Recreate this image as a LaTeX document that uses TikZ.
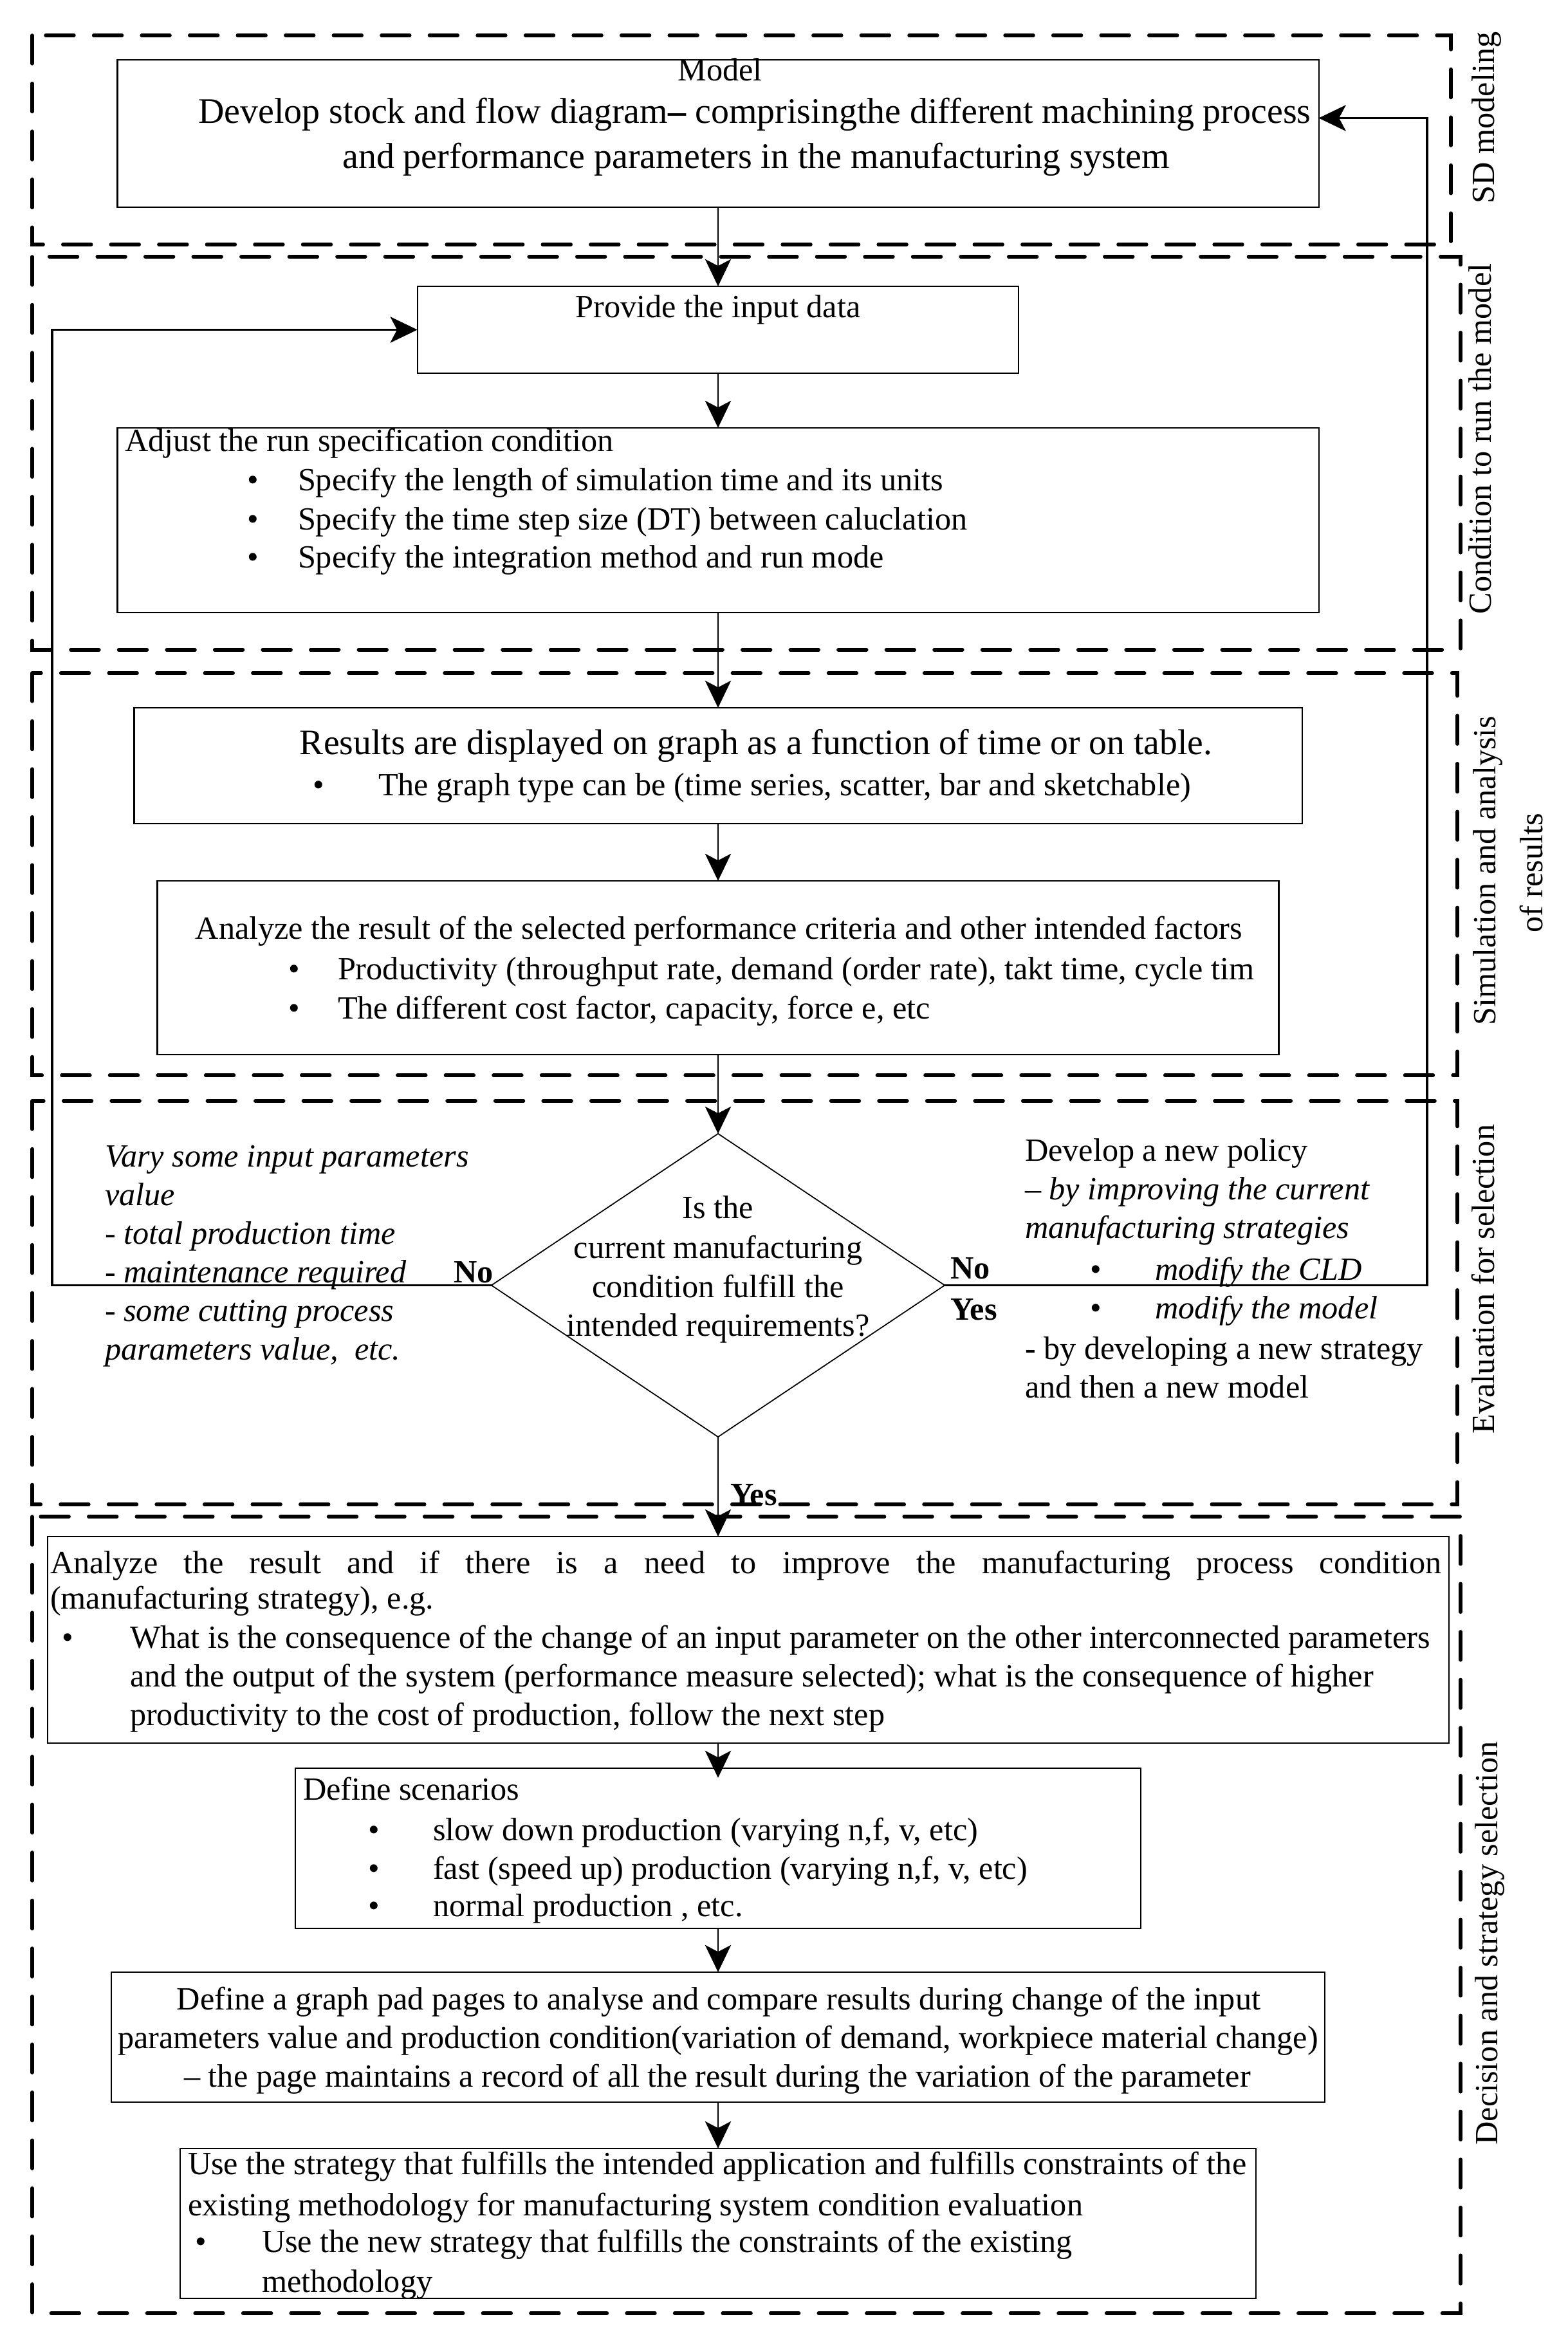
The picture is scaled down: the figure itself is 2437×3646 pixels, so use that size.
\documentclass[tikz,border=0pt]{standalone}
\usepackage{fontspec}
\setmainfont{Liberation Serif}
\usetikzlibrary{arrows.meta,shapes.geometric,calc}
\newcommand\fsbase{\fontsize{14.3}{17}\selectfont}
\newcommand\fsbig{\fontsize{15.9}{19}\selectfont}
\newcommand\fsres{\fontsize{15.8}{19}\selectfont}
\begin{document}
\begin{tikzpicture}[x=0.01cm,y=-0.01cm,
  every node/.style={inner sep=0pt,outer sep=0pt},
  txt/.style={font=\fsbase,text height=9.8pt,text depth=2.8pt,inner sep=0pt},
  bigtxt/.style={txt,font=\fsbig,text height=11pt,text depth=3.2pt},
  lw/.style={txt,anchor=west},
  ital/.style={lw,font=\fsbase\itshape},
  sect/.style={line width=1.55pt,dash pattern=on 12.5pt off 8.7pt,line cap=round},
  box/.style={draw,line width=0.6pt,rectangle},
  flow/.style={line width=0.55pt,-{Stealth[length=12pt,width=11.5pt,inset=3pt]}},
  loopline/.style={line width=0.95pt,-{Stealth[length=12pt,width=11.5pt,inset=3pt]}},
  bold/.style={txt,font=\fsbase\bfseries}
]
\useasboundingbox (0,0) rectangle (2437,3646);

% section frames
\draw[sect] (50,55) rectangle (2255,380);
\draw[sect] (50,399) rectangle (2270,1010);
\draw[sect] (50,1046) rectangle (2265,1671);
\draw[sect] (50,1711) rectangle (2265,2338);
\draw[sect] (50,2357) rectangle (2270,3595);

% section labels
\node[txt,rotate=90] (labsd) at (2310,183) {SD modeling};
\node[txt,rotate=90] (labcond) at (2305,682) {Condition to run the model};
\node[txt,rotate=90] (labsim1) at (2312,1353) {Simulation and analysis};
\node[txt,rotate=90] (labsim2) at (2385,1357) {of results};
\node[txt,rotate=90] (labeval) at (2310,1988) {Evaluation for selection};
\node[txt,rotate=90] (labdec) at (2315,3020) {Decision and strategy selection};

% boxes
\node[box,minimum width=18.66cm,minimum height=2.29cm] (model) at (1116,207.5) {};
\node[box,minimum width=9.34cm,minimum height=1.35cm] (provide) at (1116,512.5) {};
\node[box,minimum width=18.66cm,minimum height=2.87cm] (adjust) at (1116,808.5) {};
\node[box,minimum width=18.14cm,minimum height=1.80cm] (results) at (1116,1190) {};
\node[box,minimum width=17.42cm,minimum height=2.70cm] (analyze) at (1116,1504) {};
\node[draw,diamond,line width=0.5pt,minimum width=7.04cm,minimum height=4.71cm,inner sep=0pt] (dec) at (1116,1997.5) {};
\node[box,minimum width=21.76cm,minimum height=3.21cm] (analyze2) at (1163,2548.5) {};
\node[box,minimum width=13.14cm,minimum height=2.49cm] (scen) at (1116,2872.5) {};
\node[box,minimum width=18.85cm,minimum height=2.02cm] (graph) at (1116,3166) {};
\node[box,minimum width=16.71cm,minimum height=2.33cm] (use) at (1116,3455.5) {};

% model text
\node[txt] (m1) at (1119,113) {Model};
\node[bigtxt] (m2) at (1173,178) {Develop stock and flow diagram\textbf{–} comprisingthe different machining process};
\node[bigtxt] (m3) at (1175,248) {and performance parameters in the manufacturing system};

% provide
\node[txt] (p1) at (1116,481) {Provide the input data};

% adjust
\node[lw] (a1) at (194,689) {Adjust the run specification condition};
\node[lw] (ab1) at (384,750) {•};
\node[lw] (at1) at (463,750) {Specify the length of simulation time and its units};
\node[lw] (ab2) at (384,811) {•};
\node[lw] (at2) at (463,811) {Specify the time step size (DT) between caluclation};
\node[lw] (ab3) at (384,870) {•};
\node[lw] (at3) at (463,870) {Specify the integration method and run mode};

% results
\node[bigtxt,font=\fsres] (r1) at (1175,1159) {Results are displayed on graph as a function of time or on table.};
\node[lw] (rb1) at (486,1224) {•};
\node[lw] (rt1) at (588,1224) {The graph type can be (time series, scatter, bar and sketchable)};

% analyze
\node[txt] (an1) at (1117,1447) {Analyze the result of the selected performance criteria and other intended factors};
\node[lw] (anb1) at (448,1510) {•};
\node[lw] (ant1) at (525,1510) {Productivity (throughput rate, demand (order rate), takt time, cycle tim};
\node[lw] (anb2) at (448,1571) {•};
\node[lw] (ant2) at (525,1571) {The different cost factor, capacity, force e, etc};

% diamond text
\node[txt] (d1) at (1116,1881) {Is the};
\node[txt] (d2) at (1116,1943) {current manufacturing};
\node[txt] (d3) at (1116,2004) {condition fulfill the};
\node[txt] (d4) at (1116,2064) {intended requirements?};

% left italic text
\node[ital] (l1) at (163,1801) {Vary some input parameters};
\node[ital] (l2) at (163,1861) {value};
\node[ital] (l3) at (163,1921) {- total production time};
\node[ital] (l4) at (163,1981) {- maintenance required};
\node[ital] (l5) at (163,2041) {- some cutting process};
\node[ital] (l6) at (163,2101) {parameters value,\ \ etc.};

% right text
\node[lw] (q1) at (1593,1792) {Develop a new policy};
\node[lw] (q2) at (1593,1852) {– \textit{by improving the current}};
\node[ital] (q3) at (1593,1912) {manufacturing strategies};
\node[lw] (qb1) at (1694,1977) {•};
\node[ital] (qt1) at (1795,1977) {modify the CLD};
\node[lw] (qb2) at (1694,2037) {•};
\node[ital] (qt2) at (1795,2037) {modify the model};
\node[lw] (q4) at (1593,2100) {\textbf{-} by developing a new strategy};
\node[lw] (q5) at (1593,2160) {and then a new model};

% yes / no
\node[bold] (noL) at (736,1981) {No};
\node[bold,anchor=west] (noR) at (1477,1975) {No};
\node[bold,anchor=west] (yesR) at (1477,2039) {Yes};
\node[bold,anchor=west] (yesB) at (1135,2327) {Yes};

% analyze2
\node[lw] (b1) at (78,2433) {\makebox[615pt][s]{Analyze the result and if there is a need to improve the manufacturing process condition}};
\node[lw] (b2) at (78,2488) {(manufacturing strategy), e.g.};
\node[lw] (bb1) at (96,2549) {•};
\node[lw] (bt1) at (202,2549) {What is the consequence of the change of an input parameter on the other interconnected parameters};
\node[lw] (bt2) at (202,2609) {and the output of the system (performance measure selected); what is the consequence of higher};
\node[lw] (bt3) at (202,2669) {productivity to the cost of production, follow the next step};

% scenarios
\node[lw] (s1) at (471,2785) {Define scenarios};
\node[lw] (sb1) at (572,2848) {•};
\node[lw] (st1) at (673,2848) {slow down production (varying n,f, v, etc)};
\node[lw] (sb2) at (572,2908) {•};
\node[lw] (st2) at (673,2908) {fast (speed up) production (varying n,f, v, etc)};
\node[lw] (sb3) at (572,2966) {•};
\node[lw] (st3) at (673,2966) {normal production , etc.};

% graph pad
\node[txt] (g1) at (1117,3111) {Define a graph pad pages to analyse and compare results during change of the input};
\node[txt] (g2) at (1116,3171) {parameters value and production condition(variation of demand, workpiece material change)};
\node[txt] (g3) at (1115,3231) {– the page maintains a record of all the result during the variation of the parameter};

% use
\node[lw] (u1) at (292,3367) {Use the strategy that fulfills the intended application and fulfills constraints of the};
\node[lw] (u2) at (292,3431) {existing methodology for manufacturing system condition evaluation};
\node[lw] (ub1) at (303,3488) {•};
\node[lw] (ut1) at (407,3488) {Use the new strategy that fulfills the constraints of the existing};
\node[lw] (ut2) at (407,3550) {methodology};

% main flow
\draw[flow] (model.south) -- (provide.north);
\draw[flow] (provide.south) -- (adjust.north);
\draw[flow] (adjust.south) -- (results.north);
\draw[flow] (results.south) -- (analyze.north);
\draw[flow] (analyze.south) -- (dec.north);
\draw[flow] (dec.south) -- (dec.south |- analyze2.north);
\draw[flow] (dec.south |- analyze2.south) -- ($(scen.north)+(0,15)$);
\draw[flow] (scen.south) -- (graph.north);
\draw[flow] (graph.south) -- (use.north);

% loops
\coordinate (lx) at (81,1997.5);
\coordinate (rx) at (2218,1997.5);
\draw[loopline] (dec.west) -- (lx) |- (provide.west);
\draw[loopline] (dec.east) -- (rx) |- ($(model.east)+(0,-24)$);
\end{tikzpicture}
\end{document}
